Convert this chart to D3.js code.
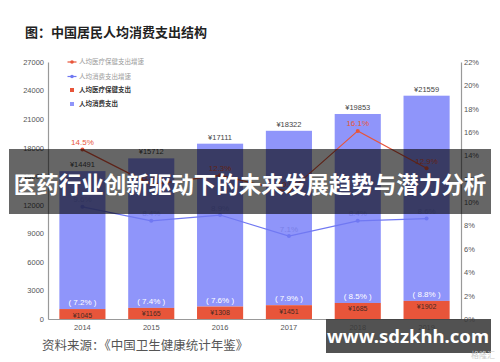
<!DOCTYPE html>
<html>
<head>
<meta charset="utf-8">
<script src="https://cdn.jsdelivr.net/npm/d3@7"></script>
<style>
  body { margin: 0; background: #fff; }
  svg { display: block; font-family: "Liberation Sans", Arial, sans-serif; }
</style>
</head>
<body>
<div id="chart"></div>
<script>
const years = ["2014", "2015", "2016", "2017", "2018", "2019"];
const consumption = [14491, 15712, 17111, 18322, 19853, 21559];
const medical = [1045, 1165, 1308, 1451, 1685, 1902];
const medicalShare = [7.2, 7.4, 7.6, 7.9, 8.5, 8.8];
const medicalGrowth = [14.5, 11.5, 12.3, 10.9, 16.1, 12.9];
const consumptionGrowth = [9.6, 8.4, 8.9, 7.1, 8.4, 8.6];
const leftTicks = [0, 3000, 6000, 9000, 12000, 15000, 18000, 21000, 24000, 27000];
const rightTicks = [0, 2, 4, 6, 8, 10, 12, 14, 16, 18, 20, 22];

const W = 500, H = 362;
const plot = {left: 48, right: 461, top: 62, bottom: 319};
const red = "#e8553a", blue = "#8f95fa", blueLine = "#7078f2";

const svg = d3.select("#chart").append("svg")
    .attr("width", W)
    .attr("height", H);

const x = d3.scaleBand().domain(years).range([plot.left, plot.right]).paddingInner(0.33).paddingOuter(0.165);
const y = d3.scaleLinear().domain([0, 27000]).range([plot.bottom, plot.top]);
const yr = d3.scaleLinear().domain([0, 22]).range([plot.bottom, plot.top]);

const rows = years.map((yr_, i) => ({
    year: yr_, cons: consumption[i], med: medical[i], share: medicalShare[i],
    mg: medicalGrowth[i], cg: consumptionGrowth[i]
}));

// title
svg.append("text")
    .attr("x", 25).attr("y", 37)
    .attr("font-family", "Noto Sans CJK SC")
    .attr("font-size", 13).attr("font-weight", "bold")
    .attr("fill", "#222")
    .text("图：中国居民人均消费支出结构");

// axes
const axL = svg.append("g")
    .attr("transform", "translate(" + plot.left + ",0)")
    .call(d3.axisLeft(y).tickValues(leftTicks).tickSize(0).tickPadding(4).tickFormat(d3.format("d")));
const axR = svg.append("g")
    .attr("transform", "translate(" + plot.right + ",0)")
    .call(d3.axisRight(yr).tickValues(rightTicks).tickSize(0).tickPadding(3).tickFormat(d => d + "%"));
const axB = svg.append("g")
    .attr("transform", "translate(0," + plot.bottom + ")")
    .call(d3.axisBottom(x).tickSize(0).tickPadding(6));
[axL, axR, axB].forEach(g => {
    g.select(".domain").attr("stroke", "#999").attr("stroke-width", 1.2);
    g.selectAll("text").attr("font-size", 7.5).attr("fill", "#555");
});

// stacked bars
svg.append("g").selectAll("rect").data(rows).join("rect")
    .attr("x", d => x(d.year)).attr("width", x.bandwidth())
    .attr("y", d => y(d.med + d.cons)).attr("height", d => y(d.med) - y(d.med + d.cons))
    .attr("fill", blue);
svg.append("g").selectAll("rect").data(rows).join("rect")
    .attr("x", d => x(d.year)).attr("width", x.bandwidth())
    .attr("y", d => y(d.med)).attr("height", d => y(0) - y(d.med))
    .attr("fill", red);

const cx = d => x(d.year) + x.bandwidth() / 2;

svg.append("g").selectAll("text").data(rows).join("text")
    .attr("x", cx).attr("y", d => y(d.med + d.cons) - 4)
    .attr("text-anchor", "middle").attr("font-size", 7.5).attr("fill", "#444")
    .text(d => "¥" + d.cons);
svg.append("g").selectAll("text").data(rows).join("text")
    .attr("x", cx).attr("y", d => y(d.med) - 4)
    .attr("text-anchor", "middle").attr("font-size", 8).attr("fill", "#fff")
    .text(d => "( " + d.share + "% )");
svg.append("g").selectAll("text").data(rows).join("text")
    .attr("x", cx).attr("y", d => y(d.med) + 8.5)
    .attr("text-anchor", "middle").attr("font-size", 7).attr("fill", "#4a2a22")
    .text(d => "¥" + d.med);

// growth lines
function drawLine(key, color, labelColor) {
    const line = d3.line().x(cx).y(d => yr(d[key]));
    svg.append("path").datum(rows)
        .attr("fill", "none").attr("stroke", color).attr("stroke-width", 1.2)
        .attr("d", line);
    svg.append("g").selectAll("circle").data(rows).join("circle")
        .attr("cx", cx).attr("cy", d => yr(d[key])).attr("r", 2)
        .attr("fill", color);
    svg.append("g").selectAll("text").data(rows).join("text")
        .attr("x", cx).attr("y", d => yr(d[key]) - 4.5)
        .attr("text-anchor", "middle").attr("font-size", 8).attr("fill", labelColor)
        .text(d => d[key] + "%");
}
drawLine("cg", blueLine, "#7a80e8");
drawLine("mg", red, red);

// legend
const legend = svg.append("g").attr("font-family", "Noto Sans CJK SC").attr("font-size", 6.5);
const items = [
    {label: "人均医疗保健支出增速", color: red, type: "line", text: "#999"},
    {label: "人均消费支出增速", color: blueLine, type: "line", text: "#999"},
    {label: "人均医疗保健支出", color: red, type: "rect", text: "#333"},
    {label: "人均消费支出", color: blue, type: "rect", text: "#333"}
];
const ly = [62, 76.5, 90, 104];
items.forEach((it, i) => {
    const g = legend.append("g").attr("transform", "translate(72," + ly[i] + ")");
    if (it.type === "line") {
        g.append("line").attr("x1", -4.5).attr("x2", 4.5).attr("stroke", it.color).attr("stroke-width", 1.2);
        g.append("circle").attr("r", 1.8).attr("fill", it.color);
    } else {
        g.append("rect").attr("x", -2).attr("y", -2).attr("width", 4).attr("height", 4).attr("fill", it.color);
    }
    g.append("text").attr("x", 7).attr("dy", "0.35em").attr("fill", it.text)
        .attr("font-weight", it.type === "rect" ? "bold" : "normal").text(it.label);
});

// source
svg.append("text")
    .attr("x", 42).attr("y", 350)
    .attr("font-family", "Noto Sans CJK SC")
    .attr("font-size", 12.5).attr("fill", "#555")
    .text("资料来源：《中国卫生健康统计年鉴》");

// banner overlay
svg.append("rect")
    .attr("x", 9).attr("y", 149).attr("width", 482).attr("height", 65)
    .attr("fill", "#000").attr("opacity", 0.6);
svg.append("text")
    .attr("x", 250).attr("y", 185).attr("dy", "0.35em")
    .attr("text-anchor", "middle")
    .attr("font-family", "Noto Sans CJK SC")
    .attr("font-size", 22.5).attr("font-weight", "bold").attr("fill", "#fff")
    .text("医药行业创新驱动下的未来发展趋势与潜力分析");

// watermark
svg.append("rect")
    .attr("x", 326).attr("y", 319).attr("width", 165).attr("height", 34)
    .attr("fill", "#3a3a3a").attr("opacity", 0.88);
svg.append("text")
    .attr("x", 408).attr("y", 337).attr("dy", "0.35em")
    .attr("text-anchor", "middle")
    .attr("font-family", "Noto Sans")
    .attr("font-size", 18.5).attr("font-weight", "bold").attr("fill", "#fff")
    .text("www.sdzkhh.com");
svg.append("text")
    .attr("x", 495).attr("y", 358)
    .attr("text-anchor", "end")
    .attr("font-family", "Noto Sans CJK SC")
    .attr("font-size", 8).attr("fill", "#ccc")
    .text("格隆汇");
</script>
</body>
</html>
